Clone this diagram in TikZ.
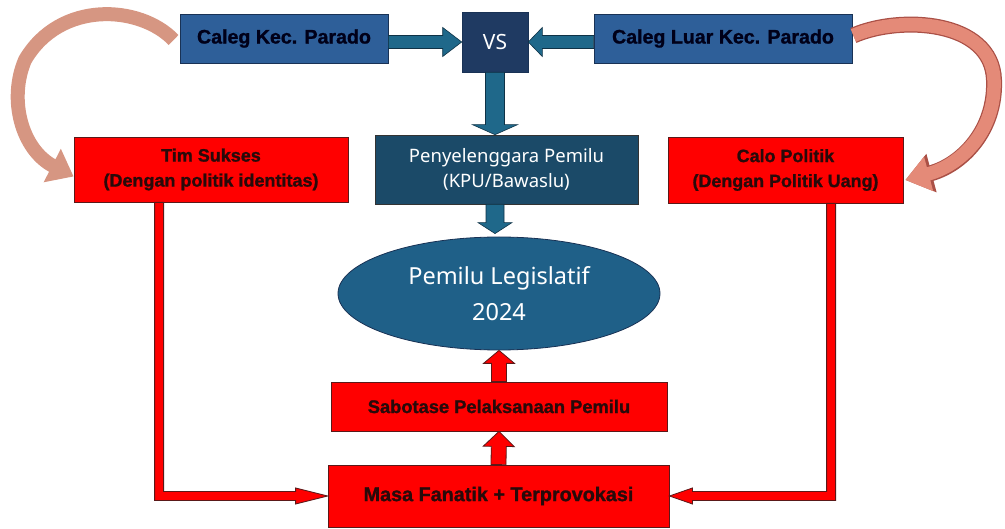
\documentclass[tikz,border=0pt]{standalone}
\usepackage{fontspec}
\setmainfont{Liberation Sans}
\newfontfamily\heavy{Liberation Sans}[BoldFeatures={FakeBold=1.2}]
\newfontfamily\aptos{Noto Sans}
\usetikzlibrary{calc,shapes.geometric,arrows.meta}
\definecolor{calegBlue}{RGB}{46,95,153}
\definecolor{blueBorder}{RGB}{25,50,85}
\definecolor{vsNavy}{RGB}{31,58,98}
\definecolor{penTeal}{RGB}{27,74,104}
\definecolor{ellBlue}{RGB}{31,96,136}
\definecolor{arrTeal}{RGB}{31,104,138}
\definecolor{arrBorder}{RGB}{15,50,70}
\definecolor{boxRed}{RGB}{255,0,0}
\definecolor{redBorder}{RGB}{90,25,25}
\definecolor{txtDark}{RGB}{40,10,10}
\definecolor{curveL}{RGB}{214,150,130}
\definecolor{curveR}{RGB}{228,138,120}
\definecolor{curveRB}{RGB}{170,80,70}
\newcommand\blockarr[6]{%
 \coordinate (ba-s) at (#2); \coordinate (ba-e) at (#3);
 \coordinate (ba-h) at ($(ba-e)!#6!(ba-s)$);
 \filldraw[#1] ($(ba-s)!#4!90:(ba-e)$) -- ($(ba-h)!#4!-90:(ba-s)$) -- ($(ba-h)!#5!-90:(ba-s)$) -- (ba-e) -- ($(ba-h)!#5!90:(ba-s)$) -- ($(ba-h)!#4!90:(ba-s)$) -- ($(ba-s)!#4!-90:(ba-e)$) -- cycle;}
\begin{document}
\begin{tikzpicture}[x=1pt,y=-1pt,
  bluebox/.style={draw=blueBorder, fill=calegBlue, line width=0.8pt, minimum height=49pt, inner sep=0pt, font=\heavy\fontsize{19.6}{22}\selectfont\bfseries, text=black!90!blue},
  redbox/.style={draw=redBorder, fill=boxRed, line width=0.8pt, inner sep=0pt, align=center, text=txtDark},
  tealarr/.style={fill=arrTeal, draw=arrBorder, line width=0.6pt},
  redarr/.style={fill=boxRed, draw=redBorder, line width=0.8pt},
]
\useasboundingbox (0,0) rectangle (1005,529);
% nodes
\node[bluebox, minimum width=208pt] (calegA) at (284,38.5) {Caleg Kec. Parado};
\node[bluebox, minimum width=258pt] (calegB) at (723,38.5) {Caleg Luar Kec. Parado};
\node[draw=blueBorder, fill=vsNavy, line width=0.6pt, minimum width=66pt, minimum height=60pt, inner sep=0pt, text=white, font=\aptos\fontsize{21}{24}\selectfont] (vs) at (495,42) {VS};
\node[draw=black!80, fill=penTeal, line width=0.6pt, minimum width=263pt, minimum height=69pt, inner sep=0pt, align=center, text=white, font=\aptos\fontsize{18.5}{25}\selectfont] (pen) at (506.5,169.5) {Penyelenggara Pemilu\\(KPU/Bawaslu)};
\node[redbox, minimum width=274pt, minimum height=65pt, font=\heavy\fontsize{18}{25}\selectfont\bfseries] (tim) at (211,169.5) {Tim Sukses\\(Dengan politik identitas)};
\node[redbox, minimum width=235pt, minimum height=66pt, font=\heavy\fontsize{17.9}{25}\selectfont\bfseries] (calo) at (785.5,170) {Calo Politik\\(Dengan Politik Uang)};
\node[ellipse, draw=blueBorder, fill=ellBlue, line width=0.8pt, minimum width=322pt, minimum height=113pt, inner sep=0pt, align=center, text=white, font=\aptos\fontsize{23.5}{36}\selectfont] (ell) at (499,293.5) {Pemilu Legislatif\\2024};
\node[redbox, minimum width=336pt, minimum height=49pt, font=\heavy\fontsize{18.3}{20}\selectfont\bfseries] (sab) at (499,406.5) {Sabotase Pelaksanaan Pemilu};
\node[redbox, minimum width=341pt, minimum height=62pt, font=\heavy\fontsize{19.8}{22}\selectfont\bfseries] (masa) at (498.5,496) {Masa Fanatik + Terprovokasi};
% teal block arrows
\blockarr{tealarr}{calegA.east |- vs.west}{vs.west}{6.5pt}{14.5pt}{19pt}
\blockarr{tealarr}{calegB.west |- vs.east}{vs.east}{6.5pt}{14.5pt}{14pt}
\blockarr{tealarr}{vs.south}{vs.south |- pen.north}{9.5pt}{22.5pt}{10pt}
\blockarr{tealarr}{pen.south -| vs.south}{$(vs.south |- ell.north)+(0,-3)$}{9pt}{17pt}{11pt}
% red block arrows
\blockarr{redarr}{sab.north}{ell.south}{7.5pt}{15.5pt}{13pt}
\blockarr{redarr}{masa.north}{sab.south}{7.5pt}{15.5pt}{15pt}
% left L connector
\coordinate (lt) at ($(tim.south west)+(85.5,0)$);
\coordinate (lc) at (lt |- masa.west);
\filldraw[redarr] ($(lt)+(-4.5,0)$) -- ($(lc)+(-4.5,4.5)$) -- ($(masa.west)+(-32,4.5)$) -- ($(masa.west)+(-32,8)$) -- (masa.west) -- ($(masa.west)+(-32,-8)$) -- ($(masa.west)+(-32,-4.5)$) -- ($(lc)+(4.5,-4.5)$) -- ($(lt)+(4.5,0)$) -- cycle;
% right L connector
\coordinate (rt) at ($(calo.south west)+(163.5,0)$);
\coordinate (rc) at (rt |- masa.east);
\filldraw[redarr] ($(rt)+(4.5,0)$) -- ($(rc)+(4.5,4.5)$) -- ($(masa.east)+(23,4.5)$) -- ($(masa.east)+(23,8)$) -- (masa.east) -- ($(masa.east)+(23,-8)$) -- ($(masa.east)+(23,-4.5)$) -- ($(rc)+(-4.5,-4.5)$) -- ($(rt)+(-4.5,0)$) -- cycle;
% curved arrows
\coordinate (l0) at ($(calegA.west)+(-6,1.5)$);
\coordinate (l1) at ($(tim.west)+(0,7)$);
\draw[line width=14pt, color=curveL, -{Triangle[width=36pt,length=24pt]}] (l0) .. controls (140,5) and (60,0) .. (25,60) .. controls (8,100) and (22,150) .. (l1);
\coordinate (r0) at ($(calegB.east)+(1,-3)$);
\coordinate (r1) at ($(calo.east)+(2,10)$);
\draw[line width=16pt, color=curveRB, -{Triangle[width=38pt,length=27pt]}] (r0) .. controls (900,15) and (992,20) .. (994,80) .. controls (996,130) and (962,165) .. (r1);
\draw[line width=13.5pt, color=curveR, -{Triangle[width=34pt,length=24pt]}] (r0) .. controls (900,15) and (992,20) .. (994,80) .. controls (996,130) and (962,165) .. (r1);
\end{tikzpicture}
\end{document}
